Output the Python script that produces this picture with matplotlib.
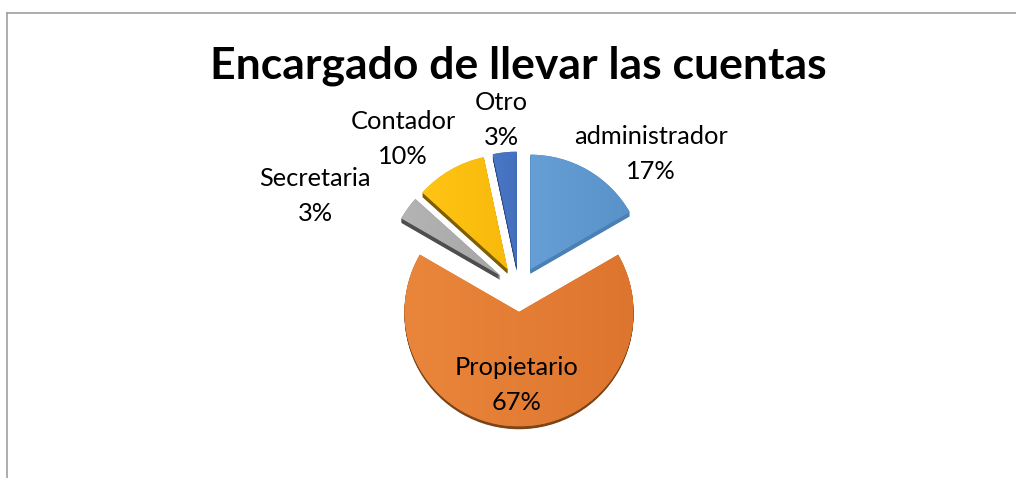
import numpy as np
import matplotlib
matplotlib.use("Agg")
import matplotlib.pyplot as plt
from matplotlib.colors import LinearSegmentedColormap
from matplotlib.lines import Line2D

plt.rcParams['font.family'] = ['Lato', 'DejaVu Sans']

title = "Encargado de llevar las cuentas"
labels = ["administrador", "Propietario", "Secretaria", "Contador", "Otro"]
# counts out of 30 answers, the chart shows them as rounded percents
values = [5, 20, 1, 3, 1]
explode = [0.2, 0.2, 0.2, 0.2, 0.2]

top_colors = [("#659FD6", "#5892C9"), ("#EA863C", "#DE752E"), ("#B4B4B4", "#A6A6A6"),
              ("#FFC414", "#F8BA0C"), ("#4A78C6", "#4470BE")]
side_colors = ["#4A80B4", "#7A4518", "#4E4E4E", "#7F6000", "#27457C"]
label_pos = [(651, 154), (517, 385), (315, 196), (403, 139), (501, 120)]

W, H = 1016, 478
fig = plt.figure(figsize=(W / 100, H / 100), dpi=100)

# axes box around the pie centre, r is the pie radius in px
cx, cy, half, r = 519, 289, 170, 114.5
ax = fig.add_axes([(cx - half) / W, 1 - (cy + half) / H, 2 * half / W, 2 * half / H])

# side of the slices, the same pie shifted down a few times
for dy in np.arange(0.04, 0, -0.005):
    side, _ = ax.pie(values, explode=explode, startangle=90, counterclock=False,
                     colors=side_colors, center=(0, -dy), radius=1, frame=False)
    # the big slice has a thinner edge
    side[1].set_visible(dy <= 0.03)

wedges, _ = ax.pie(values, explode=explode, startangle=90, counterclock=False,
                   colors=[c[1] for c in top_colors], radius=1, frame=False)

lim = half / r
# soft left to right shading on each slice
grad = np.linspace(0, 1, 256)[None, :]
for w, c in zip(wedges, top_colors):
    cmap = LinearSegmentedColormap.from_list("g", list(c))
    x0, y0, x1, y1 = w.get_window_extent().transformed(ax.transData.inverted()).extents
    im = ax.imshow(grad, cmap=cmap, extent=(x0, x1, y0, y1), aspect='auto', zorder=w.get_zorder() + 0.1)
    im.set_clip_path(w)

ax.set_xlim(-lim, lim)
ax.set_ylim(-lim, lim)
ax.set_aspect('equal')
ax.axis('off')

total = sum(values)
for name, v, (x, y) in zip(labels, values, label_pos):
    fig.text(x / W, 1 - y / H, "%s\n%.0f%%" % (name, 100 * v / total), ha='center', va='center',
             fontsize=18.3, color='black', linespacing=1.6)

fig.text(518 / W, 1 - 66 / H, title, ha='center', va='center', fontsize=32,
         fontweight='bold', color='black')

# chart area border, only top and left show
fig.add_artist(Line2D([6.5 / W, 1], [1 - 13 / H, 1 - 13 / H], color='#A0A0A0', lw=1.2))
fig.add_artist(Line2D([6.5 / W, 6.5 / W], [0, 1 - 13 / H], color='#A0A0A0', lw=1.2))

fig.savefig("out.png", dpi=100, facecolor='white')
